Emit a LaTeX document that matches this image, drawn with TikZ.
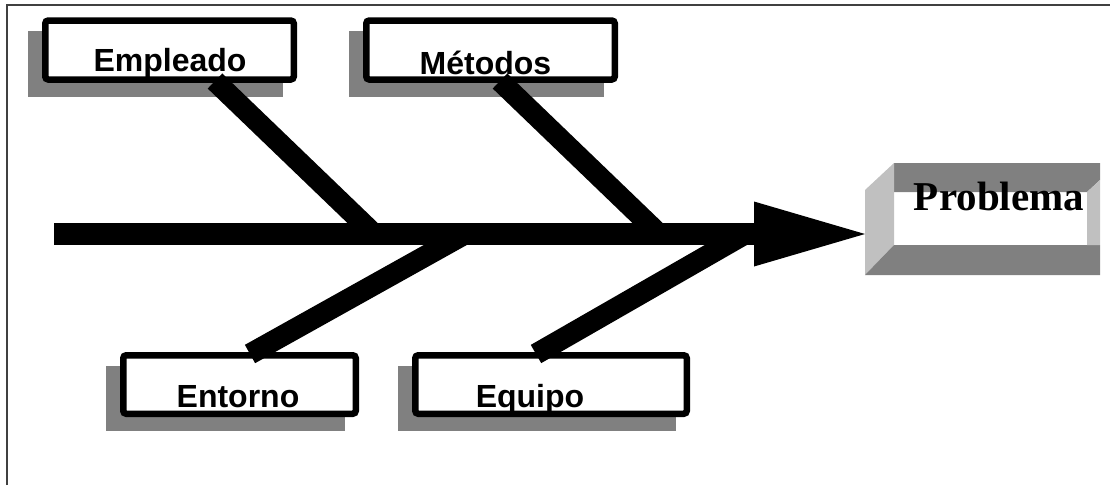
\documentclass[tikz,border=0pt]{standalone}
\usepackage{fontspec}
\setmainfont{Liberation Serif}
\setsansfont{Liberation Sans}
\usepackage{xcolor}
\definecolor{shadowGray}{HTML}{808080}
\definecolor{bevelLight}{HTML}{C0C0C0}
\definecolor{bevelDark}{HTML}{808080}
\definecolor{frameGray}{HTML}{404040}
\usepackage{tikz}
\usetikzlibrary{
    arrows.meta,
    calc,
    backgrounds
}
\tikzset{
    % Boxes of the four causes - thick black border
    cause box/.style={
        rectangle,
        draw=black,
        fill=white,
        line width=6.5pt,
        rounded corners=3pt,
        outer sep=0pt,
        inner sep=0pt,
        minimum height=59pt,
    },
    % Cause labels - bold sans, set on a base line
    cause text/.style={
        font=\sffamily\bfseries\fontsize{32}{38}\selectfont,
        anchor=base,
        inner sep=0pt,
    },
    % Flat gray shadow behind the boxes
    shadow fill/.style={
        fill=shadowGray,
    },
    % Bones and spine of the fish
    bone/.style={
        draw=black,
        line width=21pt,
    },
    spine/.style={
        draw=black,
        line width=22pt,
        -{Triangle[length=111pt, width=65pt, line width=0pt]},
    },
    % Beveled effect box
    bevel light/.style={fill=bevelLight},
    bevel dark/.style={fill=bevelDark},
    problem text/.style={
        font=\rmfamily\bfseries\fontsize{41}{48}\selectfont,
        anchor=base,
        inner sep=0pt,
    },
    frame/.style={
        draw=frameGray,
        line width=2pt,
    },
}

\begin{document}
\begin{tikzpicture}[x=1pt, y=-1pt]
    \useasboundingbox (0,0) rectangle (1110,485);

    % cause boxes
    \node (empleado) [cause box, minimum width=248.5pt] at (169.5,50) {};
    \node (metodos) [cause box, minimum width=248.5pt] at (490.5,50) {};
    \node (entorno) [cause box, minimum width=232.5pt, minimum height=58.5pt] at (239.5,384.5) {};
    \node (equipo) [cause box, minimum width=271.5pt, minimum height=58.5pt] at (551,384.5) {};

    \node (empleadoText) [cause text] at (170,71) {Empleado};
    \node (metodosText) [cause text] at (485.5,74) {Métodos};
    \node (entornoText) [cause text] at (238,407) {Entorno};
    \node (equipoText) [cause text] at (530,407) {Equipo};

    \begin{scope}[on background layer]
        \draw [frame] (7,485) -- (7,5) -- (1110,5);
        \foreach \cause in {empleado, metodos, entorno, equipo}
            \fill [shadow fill] ($(\cause.south west)+(-17.25,17.25)$) rectangle ($(\cause.north east)+(-10.75,10.75)$);
    \end{scope}

    % bones
    \coordinate (empleadoTail) at (215,81);
    \coordinate (empleadoJoint) at (374,234);
    \coordinate (metodosTail) at (500,81);
    \coordinate (metodosJoint) at (659,234);
    \coordinate (entornoTail) at (250,354);
    \coordinate (entornoJoint) at (465,234);
    \coordinate (equipoTail) at (536,354);
    \coordinate (equipoJoint) at (745,234);
    \foreach \cause in {empleado, metodos, entorno, equipo}
        \draw [bone] (\cause Tail) -- (\cause Joint);

    % spine
    \coordinate (spineStart) at (54,234);
    \coordinate (problemaTip) at (865,234);
    \draw [spine] (spineStart) -- (problemaTip);

    % effect box
    \begin{scope}[shift={(865,163)}]
        \fill [bevel dark] (29,0) -- (235,0) -- (235,17) -- (222,29) -- (29,29) -- cycle;
        \fill [bevel light] (0,27) -- (29,0) -- (29,82) -- (0,112) -- cycle;
        \fill [bevel dark] (0,112) -- (29,82) -- (235,82) -- (235,112) -- cycle;
        \fill [bevel light] (222,29) -- (235,17) -- (235,82) -- (222,82) -- cycle;
    \end{scope}
    \node (problema) [problem text] at (999,210) {Problema};
\end{tikzpicture}
\end{document}
